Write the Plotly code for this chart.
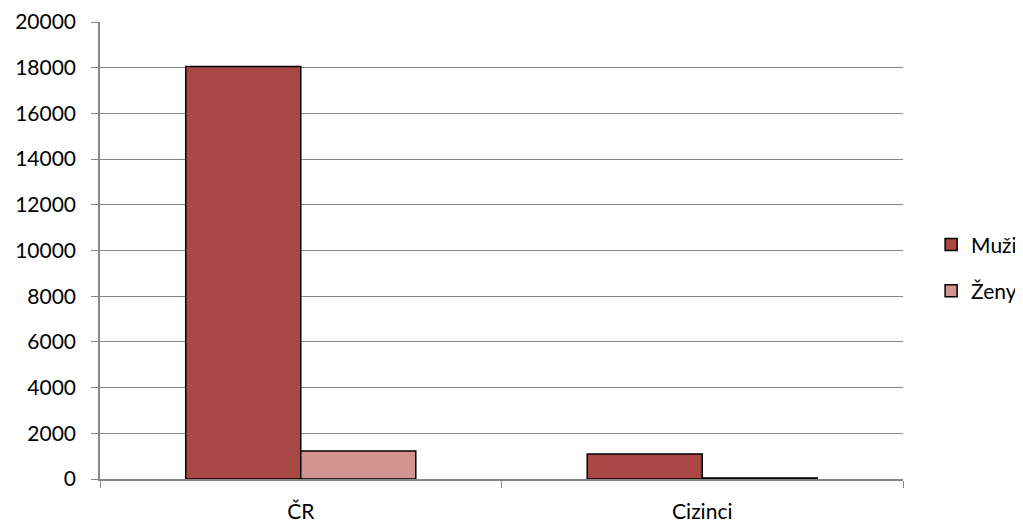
import plotly.graph_objects as go

categories = ["ČR", "Cizinci"]
muzi = [18050, 1090]
zeny = [1220, 40]
y_ticks = [0, 2000, 4000, 6000, 8000, 10000, 12000, 14000, 16000, 18000, 20000]
y_tick_labels = [str(v) for v in y_ticks]

font_family = "Lato, 'Open Sans', sans-serif"

fig = go.Figure()
fig.add_trace(go.Bar(name="Muži", x=categories, y=muzi, legendgroup="m",
                     marker=dict(color="#A94744", line=dict(color="#000000", width=1.5))))
fig.add_trace(go.Bar(name="Ženy", x=categories, y=zeny, legendgroup="z",
                     marker=dict(color="#D39391", line=dict(color="#000000", width=1.5))))

fig.update_layout(
    width=1015, height=516,
    margin=dict(l=92, r=120, t=14, b=45, autoexpand=False),
    paper_bgcolor="white", plot_bgcolor="white",
    barmode="group", bargap=0.427, bargroupgap=0,
    font=dict(family=font_family, size=21, color="#000000"),
    legend=dict(x=1.035, y=0.462, xanchor="left", yanchor="middle",
                font=dict(size=21), traceorder="grouped", tracegroupgap=16,
                itemwidth=30),
    showlegend=True,
)
fig.update_xaxes(
    type="category", tickson="boundaries", ticks="outside", ticklen=7,
    tickcolor="#868686", showline=True, linecolor="#868686", linewidth=1.5,
    showgrid=False, tickfont=dict(size=21), automargin=False,
    ticklabelstandoff=13,
)
fig.update_yaxes(
    range=[0, 20000], tickvals=y_ticks, ticktext=y_tick_labels,
    ticks="outside", ticklen=7,
    tickcolor="#868686", showline=True, linecolor="#868686", linewidth=1.5,
    showgrid=True, gridcolor="#868686", gridwidth=1, zeroline=False,
    tickfont=dict(size=21), automargin=False, ticklabelstandoff=11,
)
fig.write_html("out.html")
